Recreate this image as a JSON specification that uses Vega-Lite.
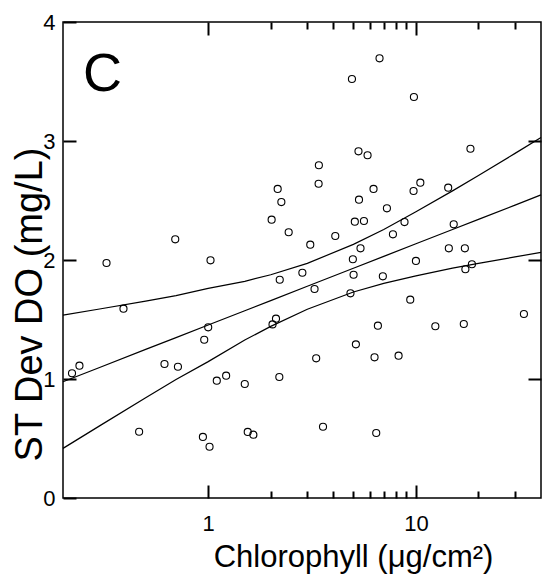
{
 "$schema": "https://vega.github.io/schema/vega-lite/v6.json",
 "width": 478, "height": 476,
 "autosize": {"type": "none"},
 "padding": {"left": 63, "top": 22, "right": 1, "bottom": 78},
 "background": "white",
 "config": {
  "view": {"stroke": "black", "strokeWidth": 1.5},
  "font": "Liberation Sans",
  "axis": {"domain": false, "grid": false, "labelFont": "Liberation Sans", "titleFont": "Liberation Sans", "labelColor": "black", "titleColor": "black", "titleFontWeight": "normal"}
 },
 "datasets": {
  "pts": [
   {"chl": 0.221, "sd": 1.048}, {"chl": 0.240, "sd": 1.112}, {"chl": 0.324, "sd": 1.975}, {"chl": 0.391, "sd": 1.591},
   {"chl": 0.465, "sd": 0.557}, {"chl": 0.616, "sd": 1.126}, {"chl": 0.694, "sd": 2.174}, {"chl": 0.715, "sd": 1.103},
   {"chl": 0.943, "sd": 0.513}, {"chl": 0.957, "sd": 1.33}, {"chl": 1.0, "sd": 1.434}, {"chl": 1.015, "sd": 0.431},
   {"chl": 1.026, "sd": 1.997}, {"chl": 1.10, "sd": 0.986}, {"chl": 1.22, "sd": 1.028}, {"chl": 1.50, "sd": 0.958},
   {"chl": 1.55, "sd": 0.555}, {"chl": 1.65, "sd": 0.532}, {"chl": 2.02, "sd": 2.339}, {"chl": 2.04, "sd": 1.459},
   {"chl": 2.12, "sd": 1.507}, {"chl": 2.16, "sd": 2.597}, {"chl": 2.20, "sd": 1.017}, {"chl": 2.21, "sd": 1.834},
   {"chl": 2.25, "sd": 2.487}, {"chl": 2.44, "sd": 2.233}, {"chl": 2.84, "sd": 1.893}, {"chl": 3.10, "sd": 2.129},
   {"chl": 3.25, "sd": 1.756}, {"chl": 3.31, "sd": 1.174}, {"chl": 3.40, "sd": 2.641}, {"chl": 3.41, "sd": 2.796},
   {"chl": 3.57, "sd": 0.599}, {"chl": 4.09, "sd": 2.202}, {"chl": 4.84, "sd": 1.72}, {"chl": 4.92, "sd": 3.521},
   {"chl": 4.97, "sd": 2.006}, {"chl": 5.01, "sd": 1.876}, {"chl": 5.08, "sd": 2.322}, {"chl": 5.14, "sd": 1.291},
   {"chl": 5.29, "sd": 2.913}, {"chl": 5.32, "sd": 2.507}, {"chl": 5.41, "sd": 2.098}, {"chl": 5.62, "sd": 2.328},
   {"chl": 5.85, "sd": 2.880}, {"chl": 6.25, "sd": 2.597}, {"chl": 6.32, "sd": 1.182}, {"chl": 6.44, "sd": 0.546},
   {"chl": 6.56, "sd": 1.448}, {"chl": 6.68, "sd": 3.695}, {"chl": 6.93, "sd": 1.863}, {"chl": 7.25, "sd": 2.434},
   {"chl": 7.75, "sd": 2.216}, {"chl": 8.25, "sd": 1.196}, {"chl": 8.81, "sd": 2.319}, {"chl": 9.39, "sd": 1.667},
   {"chl": 9.74, "sd": 2.580}, {"chl": 9.78, "sd": 3.370}, {"chl": 10.0, "sd": 1.992}, {"chl": 10.5, "sd": 2.650},
   {"chl": 12.4, "sd": 1.443}, {"chl": 14.3, "sd": 2.608}, {"chl": 14.4, "sd": 2.098}, {"chl": 15.2, "sd": 2.3},
   {"chl": 17.0, "sd": 1.462}, {"chl": 17.2, "sd": 2.098}, {"chl": 17.3, "sd": 1.922}, {"chl": 18.3, "sd": 2.935},
   {"chl": 18.6, "sd": 1.964}, {"chl": 33.1, "sd": 1.546}
  ],
  "fit": [
   {"chl": 0.2, "lo": 0.417, "mid": 0.977, "hi": 1.537},
   {"chl": 0.3, "lo": 0.606, "mid": 1.097, "hi": 1.588},
   {"chl": 0.5, "lo": 0.843, "mid": 1.249, "hi": 1.655},
   {"chl": 0.7, "lo": 0.995, "mid": 1.348, "hi": 1.701},
   {"chl": 1.0, "lo": 1.146, "mid": 1.454, "hi": 1.762},
   {"chl": 1.5, "lo": 1.327, "mid": 1.574, "hi": 1.821},
   {"chl": 2.0, "lo": 1.442, "mid": 1.659, "hi": 1.876},
   {"chl": 3.0, "lo": 1.586, "mid": 1.779, "hi": 1.972},
   {"chl": 5.0, "lo": 1.731, "mid": 1.931, "hi": 2.131},
   {"chl": 7.0, "lo": 1.803, "mid": 2.030, "hi": 2.257},
   {"chl": 10.0, "lo": 1.867, "mid": 2.136, "hi": 2.405},
   {"chl": 15.0, "lo": 1.931, "mid": 2.256, "hi": 2.581},
   {"chl": 20.0, "lo": 1.972, "mid": 2.341, "hi": 2.710},
   {"chl": 30.0, "lo": 2.026, "mid": 2.461, "hi": 2.896},
   {"chl": 40.0, "lo": 2.064, "mid": 2.547, "hi": 3.030}
  ]
 },
 "layer": [
  {
   "data": {"name": "fit"},
   "mark": {"type": "line", "color": "black", "strokeWidth": 1.2},
   "encoding": {
    "x": {"field": "chl", "type": "quantitative", "scale": {"type": "log", "domain": [0.2, 40], "nice": false},
     "axis": {"orient": "top", "values": [1, 10], "labels": false, "title": null, "tickSize": -13, "tickWidth": 2, "tickColor": "black"}},
    "y": {"field": "hi", "type": "quantitative", "scale": {"domain": [0, 4], "nice": false},
     "axis": {"orient": "right", "values": [1, 2, 3], "labels": false, "title": null, "tickSize": -13, "tickWidth": 2, "tickColor": "black"}}
   }
  },
  {
   "data": {"name": "fit"},
   "mark": {"type": "line", "color": "black", "strokeWidth": 1.2},
   "encoding": {
    "x": {"field": "chl", "type": "quantitative",
     "axis": {"orient": "top", "values": [2, 3, 4, 5, 6, 7, 8, 9, 20, 30], "labels": false, "title": null, "tickSize": -7, "tickWidth": 2, "tickColor": "black"}},
    "y": {"field": "mid", "type": "quantitative", "axis": null}
   }
  },
  {
   "data": {"name": "fit"},
   "mark": {"type": "line", "color": "black", "strokeWidth": 1.2},
   "encoding": {
    "x": {"field": "chl", "type": "quantitative",
     "axis": {"orient": "bottom", "values": [2, 3, 4, 5, 6, 7, 8, 9, 20, 30], "labels": false, "title": null, "tickSize": -7, "tickWidth": 2, "tickColor": "black"}},
    "y": {"field": "lo", "type": "quantitative", "axis": null}
   }
  },
  {
   "data": {"name": "pts"},
   "mark": {"type": "point", "shape": "circle", "filled": false, "color": "black", "size": 50, "strokeWidth": 1.1, "opacity": 1},
   "encoding": {
    "x": {"field": "chl", "type": "quantitative",
     "axis": {"orient": "bottom", "values": [1, 10], "format": "d", "tickSize": -13, "tickWidth": 2, "tickColor": "black",
      "labelFontSize": 22, "labelPadding": 28,
      "title": "Chlorophyll (μg/cm²)", "titleFontSize": 31, "titleX": 290, "titleY": 68, "titleAlign": "center", "titleBaseline": "alphabetic"}},
    "y": {"field": "sd", "type": "quantitative",
     "axis": {"orient": "left", "values": [0, 1, 2, 3, 4], "format": "d", "tickSize": -13, "tickWidth": 2, "tickColor": "black", "labelFontSize": 22, "labelPadding": 21,
      "title": "ST Dev DO (mg/L)", "titleFontSize": 38, "titleX": -22, "titleY": 282, "titleAngle": -90, "titleAlign": "center", "titleBaseline": "alphabetic"}}
   }
  },
  {
   "data": {"values": [{"label": "C"}]},
   "mark": {"type": "text", "fontSize": 54, "font": "Liberation Sans", "color": "black", "align": "center", "baseline": "middle"},
   "encoding": {
    "x": {"datum": 0.31, "type": "quantitative", "axis": null},
    "y": {"datum": 3.555, "type": "quantitative", "axis": null},
    "text": {"field": "label"}
   }
  }
 ],
 "resolve": {"axis": {"x": "independent", "y": "independent"}}
}
